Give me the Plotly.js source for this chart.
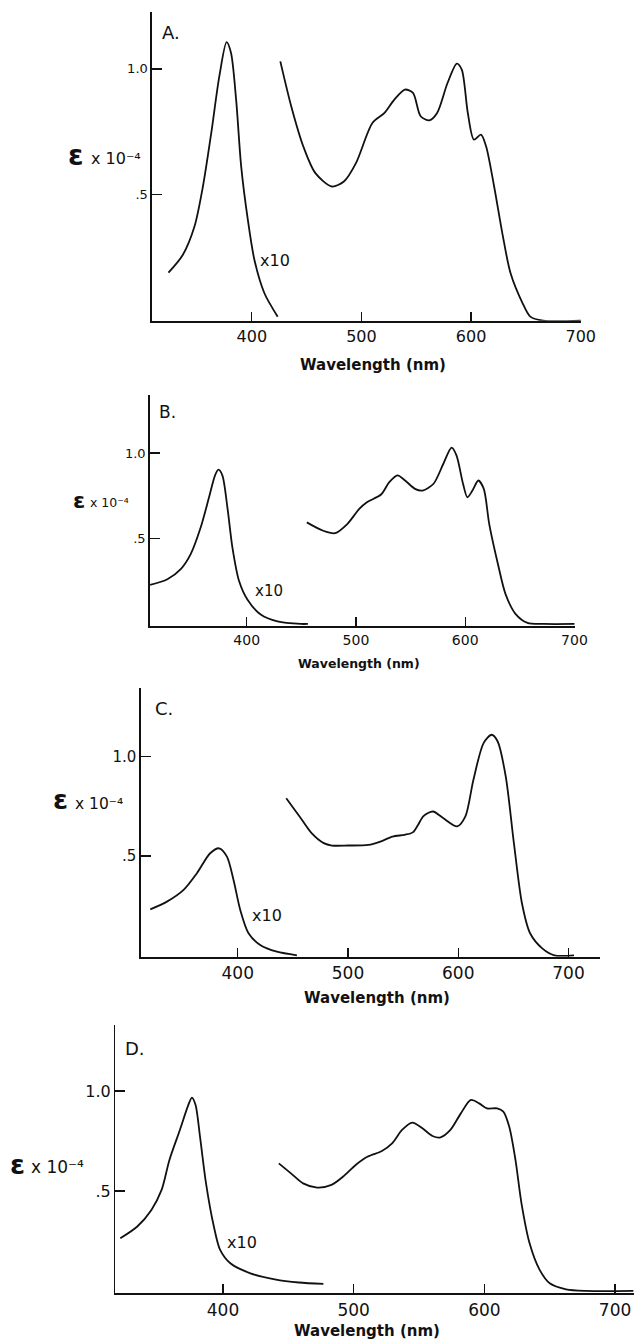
<!DOCTYPE html>
<html>
<head>
<meta charset="utf-8">
<script src="https://cdn.plot.ly/plotly-3.0.1.min.js"></script>
<style>
  html, body { margin: 0; padding: 0; background: #fff; }
  #chart { width: 634px; height: 1340px; }
</style>
</head>
<body>
<div id="chart"></div>
<script>
// ---- data (wavelength in nm, epsilon x 10^-4) ----
// Panel A
var A_uv_wl  = [324, 337, 347.7, 355.4, 363, 370.4, 377, 381, 385.7, 390.3, 396.4, 402.4, 411.5, 423.6];
var A_uv_eps = [0.191, 0.261, 0.374, 0.533, 0.745, 0.971, 1.106, 1.064, 0.878, 0.613, 0.40, 0.241, 0.109, 0.016];
var A_vis_wl  = [426, 436, 447, 458, 473, 484, 495, 510, 521, 530, 539.6, 547, 554, 562, 569, 578.5, 587, 591.5, 597, 602.6, 609, 613.7, 621, 628.5, 636, 647, 654, 665.6, 700];
var A_vis_eps = [1.03, 0.851, 0.692, 0.586, 0.533, 0.553, 0.626, 0.785, 0.825, 0.878, 0.918, 0.905, 0.812, 0.796, 0.825, 0.944, 1.021, 0.997, 0.825, 0.719, 0.739, 0.692, 0.533, 0.347, 0.188, 0.069, 0.016, 0, 0];
// Panel B
var B_uv_wl  = [311.6, 327.4, 339.6, 348.7, 357.9, 365.5, 371, 374.1, 377.7, 382.3, 386.9, 393, 400.6, 412.8, 428.1, 449.5, 456];
var B_uv_eps = [0.228, 0.261, 0.32, 0.408, 0.565, 0.741, 0.869, 0.902, 0.869, 0.682, 0.447, 0.251, 0.143, 0.055, 0.015, 0, 0];
var B_vis_wl  = [455, 470, 481, 492, 503, 510, 523, 530.5, 538, 545, 554, 561, 571, 580, 587.5, 592, 598, 602, 606.6, 612, 617, 622, 630, 637, 646, 657, 672, 700];
var B_vis_eps = [0.594, 0.545, 0.531, 0.584, 0.673, 0.712, 0.757, 0.829, 0.869, 0.839, 0.790, 0.780, 0.820, 0.937, 1.031, 0.986, 0.820, 0.741, 0.780, 0.839, 0.790, 0.584, 0.349, 0.173, 0.059, 0.006, 0, 0];
// Panel C
var C_uv_wl  = [320.7, 335.8, 350.9, 363, 375, 383.2, 390.2, 396.2, 402.3, 409.8, 420.4, 435.5, 453.7];
var C_uv_eps = [0.231, 0.270, 0.329, 0.413, 0.513, 0.538, 0.496, 0.379, 0.228, 0.111, 0.052, 0.018, 0];
var C_vis_wl  = [444, 456.1, 467, 478, 485.4, 500.1, 518.4, 529.4, 540.4, 551.4, 558.8, 563.5, 568.5, 577.1, 586.3, 599.1, 606.5, 613.8, 623, 630.3, 635.8, 643.1, 650.5, 657.8, 665.2, 676.2, 687.2, 705];
var C_vis_eps = [0.790, 0.698, 0.614, 0.564, 0.552, 0.552, 0.555, 0.572, 0.597, 0.606, 0.618, 0.655, 0.700, 0.723, 0.690, 0.648, 0.698, 0.883, 1.067, 1.109, 1.075, 0.899, 0.564, 0.262, 0.111, 0.035, 0, 0];
// Panel D
var D_uv_wl  = [321.4, 334.4, 345.2, 353, 359, 367, 373, 376.2, 379, 382.4, 387, 393, 397.8, 405.6, 421, 439.6, 458, 476.8];
var D_uv_eps = [0.263, 0.322, 0.405, 0.505, 0.655, 0.805, 0.922, 0.967, 0.93, 0.772, 0.538, 0.322, 0.205, 0.138, 0.088, 0.058, 0.042, 0.035];
var D_vis_wl  = [442.7, 452, 461.3, 472, 483, 492, 501.5, 510.8, 521.6, 529.4, 537, 544.8, 552.6, 560.3, 566.5, 574, 582, 589.7, 596, 602, 609.8, 614.5, 619, 623.8, 628.4, 634.6, 642.3, 650, 662.5, 678, 714];
var D_vis_eps = [0.638, 0.588, 0.538, 0.517, 0.530, 0.572, 0.630, 0.672, 0.70, 0.738, 0.805, 0.842, 0.813, 0.775, 0.768, 0.805, 0.888, 0.955, 0.938, 0.913, 0.913, 0.897, 0.822, 0.655, 0.438, 0.238, 0.105, 0.038, 0.008, 0, 0];

var xTickVals = [400, 500, 600, 700];
var yTickVals = [0.5, 1.0];
var yTickText = ['.5', '1.0'];
var panelLetters = ['A.', 'B.', 'C.', 'D.'];
var xTitle = 'Wavelength (nm)';
var epsSymbol = 'ε';
var epsUnit = 'x 10⁻⁴';
var scaleLabel = 'x10';

// ---- layout helpers ----
var W = 634, H = 1340;
var FONT = 'DejaVu Sans, Liberation Sans, sans-serif';
var INK = '#111';
function px(x) { return x / W; }
function py(y) { return 1 - y / H; }

var panels = [
  { uv: [A_uv_wl, A_uv_eps], vis: [A_vis_wl, A_vis_eps],
    left: 151.7, right: 581.3, top: 12, bottom: 320.7,
    xr: [308.7, 700.5], yr: [0, 1.226],
    xfs: 16, yfs: 13,
    letter: [160, 32, 18], x10: [258, 260, 16],
    eps: [66, 155, 28], unit: [89, 158, 16], title: [373, 365, 15] },
  { uv: [B_uv_wl, B_uv_eps], vis: [B_vis_wl, B_vis_eps],
    left: 149.5, right: 575, top: 395, bottom: 626,
    xr: [311, 700.5], yr: [-0.012, 1.339],
    xfs: 14, yfs: 13,
    letter: [157, 412, 17], x10: [253, 591, 15],
    eps: [71, 500.5, 22], unit: [88, 503, 12.5], title: [359, 663, 12.5] },
  { uv: [C_uv_wl, C_uv_eps], vis: [C_vis_wl, C_vis_eps],
    left: 140.7, right: 600, top: 688, bottom: 956.7,
    xr: [312, 728.6], yr: [-0.007, 1.344],
    xfs: 17, yfs: 15,
    letter: [153, 708, 18], x10: [250, 915, 16],
    eps: [51, 800, 27], unit: [73, 803.5, 15.5], title: [377, 998, 15] },
  { uv: [D_uv_wl, D_uv_eps], vis: [D_vis_wl, D_vis_eps],
    left: 115.2, right: 634, top: 1025, bottom: 1293.3,
    xr: [317.5, 714.5], yr: [-0.012, 1.33],
    xfs: 17, yfs: 16,
    letter: [123, 1048, 18], x10: [225, 1242, 16],
    eps: [8, 1164, 27], unit: [29, 1167, 17], title: [367, 1331, 15] }
];

var traces = [];
var layout = {
  width: W, height: H,
  margin: { l: 0, r: 0, t: 0, b: 0, pad: 0 },
  paper_bgcolor: '#fff', plot_bgcolor: 'rgba(0,0,0,0)',
  showlegend: false,
  font: { family: FONT, color: INK },
  annotations: []
};

function note(x, y, txt, size, anchor, weight) {
  return {
    xref: 'paper', yref: 'paper', x: px(x), y: py(y),
    xanchor: anchor || 'left', yanchor: 'middle', showarrow: false,
    text: txt, font: { family: FONT, size: size, color: INK, weight: weight || 'normal' }
  };
}

panels.forEach(function (p, i) {
  var n = i === 0 ? '' : String(i + 1);
  var xa = 'x' + n, ya = 'y' + n;
  [p.uv, p.vis].forEach(function (s) {
    traces.push({
      x: s[0], y: s[1], xaxis: xa, yaxis: ya,
      type: 'scatter', mode: 'lines', hoverinfo: 'skip',
      line: { color: INK, width: 1.8, shape: 'spline', smoothing: 0.8 }
    });
  });
  layout['xaxis' + n] = {
    domain: [px(p.left), px(p.right)], range: p.xr, anchor: ya,
    showline: true, linecolor: INK, linewidth: 1.8,
    ticks: 'inside', ticklen: 9, tickwidth: 1.3, tickcolor: INK,
    tickmode: 'array', tickvals: xTickVals, ticktext: xTickVals.map(String),
    tickfont: { family: FONT, size: p.xfs, color: INK },
    showgrid: false, zeroline: false, fixedrange: true
  };
  layout['yaxis' + n] = {
    domain: [py(p.bottom), py(p.top)], range: p.yr, anchor: xa,
    showline: true, linecolor: INK, linewidth: 1.3,
    ticks: 'inside', ticklen: 10, tickwidth: 1.3, tickcolor: INK,
    tickmode: 'array', tickvals: yTickVals, ticktext: yTickText,
    tickfont: { family: FONT, size: p.yfs, color: INK },
    showgrid: false, zeroline: false, fixedrange: true
  };
  layout.annotations.push(note(p.letter[0], p.letter[1], panelLetters[i], p.letter[2]));
  layout.annotations.push(note(p.x10[0], p.x10[1], scaleLabel, p.x10[2]));
  layout.annotations.push(note(p.eps[0], p.eps[1], epsSymbol, p.eps[2], 'left', 'bold'));
  layout.annotations.push(note(p.unit[0], p.unit[1], epsUnit, p.unit[2]));
  layout.annotations.push(note(p.title[0], p.title[1], xTitle, p.title[2], 'center', 'bold'));
});

Plotly.newPlot('chart', traces, layout, { staticPlot: true, displayModeBar: false });
</script>
</body>
</html>
